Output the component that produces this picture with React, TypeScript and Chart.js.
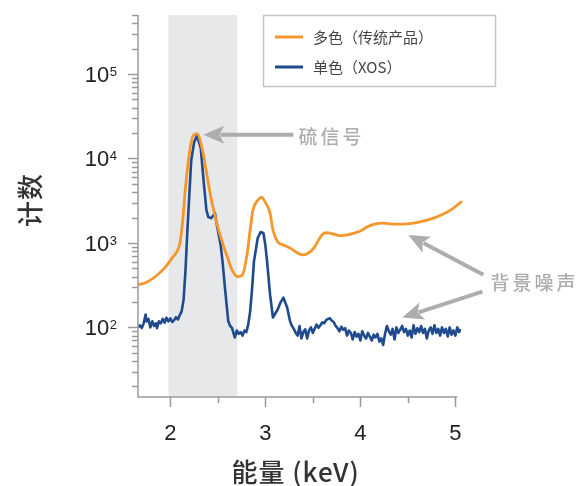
import React, { useEffect, useRef } from 'react';
import { Chart, registerables } from 'chart.js';

Chart.register(...registerables);

// ---------- data ----------
const seriesLabels = ['多色（传统产品）', '单色（XOS）'];
const seriesColors = ['#F5972C', '#1F4A8E'];

const orangeEnergy = [1.66, 1.74, 1.84, 1.95, 2.02, 2.06, 2.1, 2.13, 2.16, 2.2, 2.24, 2.28, 2.34, 2.39, 2.44, 2.5, 2.55, 2.6, 2.65, 2.71, 2.76, 2.81, 2.84, 2.87, 2.92, 2.96, 3.0, 3.05, 3.08, 3.13, 3.19, 3.26, 3.34, 3.4, 3.47, 3.52, 3.56, 3.6, 3.64, 3.68, 3.73, 3.79, 3.85, 3.91, 4.0, 4.07, 4.14, 4.24, 4.35, 4.45, 4.56, 4.66, 4.77, 4.87, 4.95, 5.02, 5.07];
const orangeCounts = [321, 338, 398, 522, 666, 760, 980, 1800, 4560, 11480, 18650, 19680, 12400, 5970, 2950, 1542, 1000, 684, 481, 398, 421, 763, 1422, 2444, 3206, 3477, 3034, 2254, 1422, 1028, 947, 873, 763, 722, 784, 900, 1080, 1260, 1320, 1310, 1260, 1220, 1240, 1280, 1384, 1540, 1660, 1719, 1673, 1673, 1719, 1815, 1968, 2193, 2444, 2800, 3120];

const blueEnergy = [1.66, 1.68, 1.7, 1.72, 1.74, 1.75, 1.77, 1.79, 1.81, 1.83, 1.85, 1.86, 1.88, 1.9, 1.92, 1.94, 1.96, 1.98, 2.0, 2.02, 2.04, 2.06, 2.08, 2.1, 2.12, 2.14, 2.16, 2.18, 2.2, 2.22, 2.25, 2.28, 2.32, 2.35, 2.38, 2.4, 2.43, 2.45, 2.47, 2.49, 2.53, 2.55, 2.58, 2.61, 2.63, 2.65, 2.67, 2.68, 2.7, 2.72, 2.74, 2.76, 2.78, 2.8, 2.82, 2.84, 2.86, 2.88, 2.92, 2.95, 2.98, 3.0, 3.02, 3.05, 3.08, 3.13, 3.16, 3.19, 3.23, 3.26, 3.28, 3.3, 3.32, 3.34, 3.36, 3.38, 3.4, 3.42, 3.44, 3.46, 3.48, 3.5, 3.52, 3.54, 3.56, 3.58, 3.6, 3.62, 3.64, 3.66, 3.68, 3.7, 3.72, 3.74, 3.76, 3.78, 3.8, 3.82, 3.84, 3.86, 3.88, 3.9, 3.92, 3.94, 3.96, 3.98, 4.0, 4.02, 4.04, 4.06, 4.08, 4.1, 4.12, 4.14, 4.16, 4.18, 4.2, 4.22, 4.24, 4.26, 4.28, 4.3, 4.32, 4.34, 4.36, 4.38, 4.4, 4.42, 4.44, 4.46, 4.48, 4.5, 4.52, 4.54, 4.56, 4.58, 4.6, 4.62, 4.64, 4.66, 4.68, 4.7, 4.72, 4.74, 4.76, 4.78, 4.8, 4.82, 4.84, 4.86, 4.88, 4.9, 4.92, 4.94, 4.96, 4.98, 5.0, 5.02, 5.04, 5.05];
const blueCounts = [100, 106, 98, 112, 142, 118, 126, 100, 118, 104, 112, 98, 118, 112, 126, 114, 130, 118, 128, 116, 122, 132, 124, 140, 156, 214, 481, 1422, 3670, 9470, 15420, 18650, 13470, 5510, 2444, 2022, 1968, 2100, 2250, 1629, 947, 598, 258, 118, 104, 98, 82, 76, 92, 84, 88, 80, 92, 88, 108, 154, 280, 598, 1145, 1347, 1312, 947, 582, 244, 131, 163, 197, 225, 172, 118, 104, 96, 86, 80, 104, 74, 88, 95, 74, 92, 100, 86, 97, 108, 99, 106, 115, 112, 122, 126, 128, 120, 116, 104, 98, 90, 102, 94, 98, 80, 92, 86, 72, 88, 78, 84, 70, 90, 80, 74, 86, 78, 70, 82, 76, 84, 68, 74, 62, 84, 104, 90, 82, 96, 72, 100, 86, 94, 104, 88, 96, 80, 92, 76, 106, 84, 98, 88, 104, 86, 96, 74, 92, 100, 84, 106, 86, 96, 80, 100, 86, 96, 78, 100, 82, 92, 80, 100, 88, 96];

const xMin = 1.66;
const xMax = 5.07;
const xAxisEnd = 5.02;
const yMin = 15;
const yMax = 500000;
const xMajorTicks = [2, 3, 4, 5];
const xMinorTicks = [2.5, 3.5, 4.5];
const yDecadeTicks = [100, 1000, 10000, 100000];
const yDecadeExponents = ['2', '3', '4', '5'];
const xTitle = '能量 (keV)';
const yTitle = '计数';
const sulfurBand = [1.98, 2.705];
const sulfurText = '硫信号';
const noiseText = '背景噪声';
// annotation anchors in data units [energy, counts]
const sulfurArrow = { tail: [3.295, 19140], tip: [2.347, 19140] };
const sulfurLabelAt = [3.35, 19140];
const noiseArrowUpper = { tail: [5.295, 421], tip: [4.505, 1242] };
const noiseArrowLower = { tail: [5.284, 265], tip: [4.442, 131] };
const noiseLabelAt = [5.37, 338];

const LATIN = '"Liberation Sans", Arial, Helvetica, sans-serif';
const CJK = '"Noto Sans CJK SC", "Liberation Sans", sans-serif';
const AXIS_COLOR = '#9a9a9a';
const ANNOT_COLOR = '#adadad';

function drawArrow(ctx: CanvasRenderingContext2D, x1: number, y1: number, x2: number, y2: number) {
  const headLen = 21;
  const headHalf = 9;
  const ang = Math.atan2(y2 - y1, x2 - x1);
  const bx = x2 - headLen * Math.cos(ang);
  const by = y2 - headLen * Math.sin(ang);
  ctx.strokeStyle = ANNOT_COLOR;
  ctx.fillStyle = ANNOT_COLOR;
  ctx.lineWidth = 4;
  ctx.lineCap = 'butt';
  ctx.beginPath();
  ctx.moveTo(x1, y1);
  ctx.lineTo(bx + 4 * Math.cos(ang), by + 4 * Math.sin(ang));
  ctx.stroke();
  const nx = Math.sin(ang);
  const ny = -Math.cos(ang);
  ctx.beginPath();
  ctx.moveTo(x2, y2);
  ctx.lineTo(bx + headHalf * nx, by + headHalf * ny);
  ctx.lineTo(bx + 5 * Math.cos(ang), by + 5 * Math.sin(ang));
  ctx.lineTo(bx - headHalf * nx, by - headHalf * ny);
  ctx.closePath();
  ctx.fill();
}

const decorPlugin = {
  id: 'decor',
  beforeDatasetsDraw(chart: any) {
    const { ctx, chartArea, scales } = chart;
    const x = scales.x;
    ctx.save();
    ctx.fillStyle = '#e7e8ea';
    const l = x.getPixelForValue(sulfurBand[0]);
    const r = x.getPixelForValue(sulfurBand[1]);
    ctx.fillRect(l, chartArea.top, r - l, chartArea.bottom - chartArea.top);
    ctx.restore();
  },
  afterDatasetsDraw(chart: any) {
    const { ctx, chartArea, scales } = chart;
    const x = scales.x;
    const y = scales.y;
    ctx.save();

    // axes lines
    ctx.strokeStyle = AXIS_COLOR;
    ctx.lineWidth = 1.5;
    ctx.beginPath();
    ctx.moveTo(chartArea.left, chartArea.top);
    ctx.lineTo(chartArea.left, chartArea.bottom);
    ctx.lineTo(x.getPixelForValue(xAxisEnd), chartArea.bottom);
    ctx.stroke();

    // y ticks (log, major at decades, minor between)
    for (let d = 10; d <= 100000; d *= 10) {
      for (let k = 1; k <= 9; k++) {
        const v = k * d;
        if (v < yMin || v > yMax) continue;
        const py = Math.round(y.getPixelForValue(v)) + 0.5;
        const len = k === 1 ? 10 : 6;
        ctx.beginPath();
        ctx.moveTo(chartArea.left - len, py);
        ctx.lineTo(chartArea.left, py);
        ctx.stroke();
      }
    }
    // x ticks
    xMajorTicks.forEach((v) => {
      const px = Math.round(x.getPixelForValue(v)) + 0.5;
      ctx.beginPath();
      ctx.moveTo(px, chartArea.bottom);
      ctx.lineTo(px, chartArea.bottom + 10);
      ctx.stroke();
    });
    xMinorTicks.forEach((v) => {
      const px = Math.round(x.getPixelForValue(v)) + 0.5;
      ctx.beginPath();
      ctx.moveTo(px, chartArea.bottom);
      ctx.lineTo(px, chartArea.bottom + 6);
      ctx.stroke();
    });

    // y tick labels 10^n
    ctx.fillStyle = '#222';
    yDecadeTicks.forEach((v, i) => {
      const py = y.getPixelForValue(v);
      const right = chartArea.left - 21;
      ctx.font = `13px ${LATIN}`;
      const ew = ctx.measureText(yDecadeExponents[i]).width;
      ctx.textAlign = 'left';
      ctx.textBaseline = 'alphabetic';
      ctx.fillText(yDecadeExponents[i], right - ew, py + 2);
      ctx.font = `22px ${LATIN}`;
      ctx.textAlign = 'right';
      ctx.fillText('10', right - ew - 0.5, py + 8);
    });

    // x tick labels
    ctx.font = `22px ${LATIN}`;
    ctx.textAlign = 'center';
    ctx.textBaseline = 'alphabetic';
    xMajorTicks.forEach((v) => {
      ctx.fillText(String(v), x.getPixelForValue(v), chartArea.bottom + 43);
    });

    // axis titles
    ctx.fillStyle = '#333';
    ctx.font = `500 26px ${CJK}`;
    ctx.textAlign = 'center';
    ctx.textBaseline = 'middle';
    (ctx as any).letterSpacing = '1px';
    ctx.fillText(xTitle, (chartArea.left + x.getPixelForValue(xAxisEnd)) / 2 - 2, 472);
    ctx.save();
    ctx.translate(30, 200);
    ctx.rotate(-Math.PI / 2);
    ctx.fillText(yTitle, 0, 0);
    ctx.restore();
    (ctx as any).letterSpacing = '0px';

    // legend
    const lx = 263.5, ly = 15.5, lw = 232, lh = 71;
    ctx.fillStyle = '#ffffff';
    ctx.fillRect(lx, ly, lw, lh);
    ctx.strokeStyle = '#c6c6c6';
    ctx.lineWidth = 1.5;
    ctx.strokeRect(lx, ly, lw, lh);
    chart.data.datasets.forEach((ds: any, i: number) => {
      const rowY = 37 + i * 30;
      ctx.strokeStyle = ds.borderColor;
      ctx.lineWidth = 3;
      ctx.beginPath();
      ctx.moveTo(275, rowY);
      ctx.lineTo(303, rowY);
      ctx.stroke();
      ctx.fillStyle = '#444';
      ctx.font = `15px ${CJK}`;
      ctx.textAlign = 'left';
      ctx.textBaseline = 'middle';
      ctx.fillText(ds.label, 313, rowY);
    });

    // annotations
    const P = (p: number[]) => [x.getPixelForValue(p[0]), y.getPixelForValue(p[1])];
    const a1 = P(sulfurArrow.tail), b1 = P(sulfurArrow.tip);
    drawArrow(ctx, a1[0], a1[1], b1[0], b1[1]);
    const a2 = P(noiseArrowUpper.tail), b2 = P(noiseArrowUpper.tip);
    drawArrow(ctx, a2[0], a2[1], b2[0], b2[1]);
    const a3 = P(noiseArrowLower.tail), b3 = P(noiseArrowLower.tip);
    drawArrow(ctx, a3[0], a3[1], b3[0], b3[1]);

    ctx.fillStyle = ANNOT_COLOR;
    ctx.font = `500 19px ${CJK}`;
    ctx.textAlign = 'left';
    ctx.textBaseline = 'middle';
    (ctx as any).letterSpacing = '3px';
    const s = P(sulfurLabelAt);
    ctx.fillText(sulfurText, s[0], s[1] + 2);
    const n = P(noiseLabelAt);
    ctx.fillText(noiseText, n[0], n[1]);
    (ctx as any).letterSpacing = '0px';

    ctx.restore();
  },
};

export default function App() {
  const canvasRef = useRef<HTMLCanvasElement | null>(null);

  useEffect(() => {
    if (!canvasRef.current) return;
    const chart = new Chart(canvasRef.current, {
      type: 'line',
      data: {
        datasets: [
          {
            label: seriesLabels[0],
            data: orangeEnergy.map((e, i) => ({ x: e, y: orangeCounts[i] })),
            borderColor: seriesColors[0],
            backgroundColor: seriesColors[0],
            borderWidth: 2.8,
            pointRadius: 0,
            cubicInterpolationMode: 'monotone',
            fill: false,
            clip: false,
          },
          {
            label: seriesLabels[1],
            data: blueEnergy.map((e, i) => ({ x: e, y: blueCounts[i] })),
            borderColor: seriesColors[1],
            backgroundColor: seriesColors[1],
            borderWidth: 2.6,
            borderJoinStyle: 'round',
            pointRadius: 0,
            tension: 0,
            fill: false,
            clip: false,
          },
        ],
      },
      options: {
        animation: false,
        responsive: true,
        maintainAspectRatio: false,
        layout: { padding: { left: 0, right: 117, top: 15, bottom: 0 } },
        plugins: { legend: { display: false }, tooltip: { enabled: false } },
        scales: {
          x: {
            type: 'linear',
            min: xMin,
            max: xMax,
            ticks: { display: false },
            grid: { display: false },
            border: { display: false },
            afterFit: (scale: any) => { scale.height = 89; },
          },
          y: {
            type: 'logarithmic',
            min: yMin,
            max: yMax,
            ticks: { display: false },
            grid: { display: false },
            border: { display: false },
            afterFit: (scale: any) => { scale.width = 138; },
          },
        },
      },
      plugins: [decorPlugin],
    } as any);
    return () => chart.destroy();
  }, []);

  return (
    <div style={{ position: 'fixed', left: 0, top: 0, width: 579, height: 486, background: '#fff' }}>
      <canvas ref={canvasRef} />
    </div>
  );
}
